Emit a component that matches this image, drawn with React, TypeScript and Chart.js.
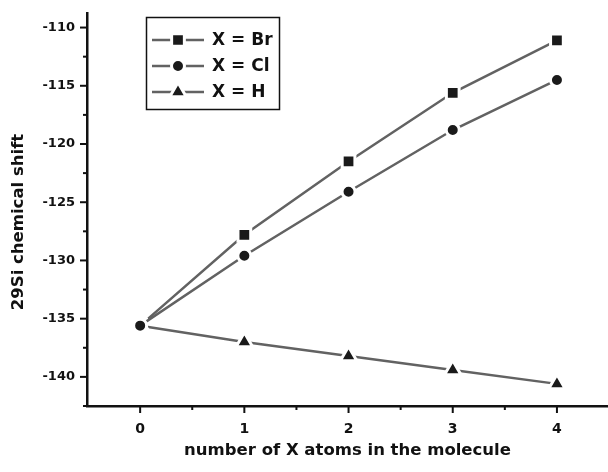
import React, { useEffect, useRef } from "react";
import { Chart, registerables } from "chart.js";

Chart.register(...registerables);

const xValues = [0, 1, 2, 3, 4];
const brValues = [-135.6, -127.8, -121.5, -115.6, -111.1];
const clValues = [-135.6, -129.6, -124.1, -118.8, -114.5];
const hValues = [-135.6, -137.0, -138.2, -139.4, -140.6];
const seriesLabels = ["X = Br", "X = Cl", "X = H"];

const xTickValues = [0, 0.5, 1, 1.5, 2, 2.5, 3, 3.5, 4, 4.5];
const xTickLabels = ["0", "", "1", "", "2", "", "3", "", "4", ""];
const yTickValues = [-142.5, -140, -137.5, -135, -132.5, -130, -127.5, -125, -122.5, -120, -117.5, -115, -112.5, -110];
const yTickLabels = ["", "-140", "", "-135", "", "-130", "", "-125", "", "-120", "", "-115", "", "-110"];

const xTitle = "number of X atoms in the molecule";
const yTitle = "29Si chemical shift";

const FONT = '"DejaVu Sans", "Liberation Sans", Arial, sans-serif';
const INK = "#111111";
const LINE = "#626262";
const MARK = "#1a1a1a";

const styles = [
  { pointStyle: "rect", radius: 9 },
  { pointStyle: "circle", radius: 6.5 },
  { pointStyle: "triangle", radius: 9.5 },
];

function drawMarker(ctx: CanvasRenderingContext2D, style: string, r: number, x: number, y: number) {
  ctx.save();
  ctx.fillStyle = MARK;
  ctx.strokeStyle = "#ffffff";
  ctx.lineWidth = 3;
  ctx.beginPath();
  if (style === "rect") {
    const s = Math.SQRT1_2 * r;
    ctx.rect(x - s, y - s, 2 * s, 2 * s);
  } else if (style === "circle") {
    ctx.arc(x, y, r, 0, Math.PI * 2);
  } else {
    const a = (Math.PI * 2) / 3;
    ctx.moveTo(x, y - r);
    ctx.lineTo(x + Math.sin(a) * r, y - Math.cos(a) * r);
    ctx.lineTo(x - Math.sin(a) * r, y - Math.cos(a) * r);
    ctx.closePath();
  }
  ctx.fill();
  ctx.stroke();
  ctx.restore();
}

const decorPlugin = {
  id: "decor",
  afterDraw(chart: any) {
    const ctx: CanvasRenderingContext2D = chart.ctx;
    const xs = chart.scales.x;
    const ys = chart.scales.y;
    const area = chart.chartArea;
    ctx.save();
    ctx.strokeStyle = INK;
    ctx.lineWidth = 2;
    xTickValues.forEach((v, i) => {
      const px = xs.getPixelForValue(v);
      const len = xTickLabels[i] ? 7 : 4;
      ctx.beginPath();
      ctx.moveTo(px, xs.top);
      ctx.lineTo(px, xs.top + len);
      ctx.stroke();
    });
    yTickValues.forEach((v, i) => {
      const py = ys.getPixelForValue(v);
      const len = yTickLabels[i] ? 7 : 4;
      ctx.beginPath();
      ctx.moveTo(ys.right, py);
      ctx.lineTo(ys.right - len, py);
      ctx.stroke();
    });
    ctx.fillStyle = INK;
    ctx.font = `bold 16.5px ${FONT}`;
    ctx.textAlign = "center";
    ctx.textBaseline = "middle";
    ctx.fillText(xTitle, (area.left + area.right) / 2, 451);
    ctx.translate(19, 222);
    ctx.rotate(-Math.PI / 2);
    ctx.font = `bold 16.5px ${FONT}`;
    ctx.fillText(yTitle, 0, 0);
    ctx.restore();

    ctx.save();
    ctx.strokeStyle = INK;
    ctx.lineWidth = 1.5;
    ctx.strokeRect(146.5, 17.5, 133, 92);
    const rows = [40, 66, 92];
    chart.data.datasets.forEach((ds: any, i: number) => {
      const y = rows[i];
      ctx.strokeStyle = LINE;
      ctx.lineWidth = 2.5;
      ctx.beginPath();
      ctx.moveTo(152, y);
      ctx.lineTo(204, y);
      ctx.stroke();
      drawMarker(ctx, styles[i].pointStyle, styles[i].radius, 178, y);
      ctx.fillStyle = INK;
      ctx.font = `bold 17px ${FONT}`;
      ctx.textAlign = "left";
      ctx.textBaseline = "middle";
      ctx.fillText(ds.label, 212, y + 1);
    });
    ctx.restore();
  },
};

export default function App() {
  const ref = useRef<HTMLCanvasElement>(null);
  useEffect(() => {
    const series = [brValues, clValues, hValues];
    const chart = new Chart(ref.current as HTMLCanvasElement, {
      type: "line",
      data: {
        datasets: series.map((vals, i) => ({
          label: seriesLabels[i],
          data: xValues.map((x, j) => ({ x, y: vals[j] })),
          borderColor: LINE,
          borderWidth: 2.5,
          pointStyle: styles[i].pointStyle as any,
          pointRadius: styles[i].radius,
          pointBackgroundColor: MARK,
          pointBorderColor: "#ffffff",
          pointBorderWidth: 3,
          order: i === 1 ? 0 : i === 0 ? 1 : 2,
          tension: 0,
        })),
      },
      options: {
        responsive: false,
        animation: false,
        devicePixelRatio: 1,
        layout: { padding: { top: 13, left: 0, right: 0, bottom: 0 }, autoPadding: false },
        plugins: { legend: { display: false }, tooltip: { enabled: false }, title: { display: false } },
        scales: {
          x: {
            type: "linear",
            min: -0.51,
            max: 4.49,
            afterBuildTicks: (s: any) => {
              s.ticks = xTickValues.map((v) => ({ value: v }));
            },
            afterFit: (s: any) => {
              s.height = 66;
              s.paddingLeft = 0;
              s.paddingRight = 0;
            },
            ticks: {
              autoSkip: false,
              maxRotation: 0,
              padding: 15,
              color: INK,
              font: { family: FONT, size: 14, weight: "bold" },
              callback: (v: any) => {
                const i = xTickValues.indexOf(Number(v));
                return i >= 0 ? xTickLabels[i] : "";
              },
            },
            grid: { display: false, drawTicks: false },
            border: { display: true, color: INK, width: 2.5 },
          },
          y: {
            type: "linear",
            min: -142.5,
            max: -108.75,
            afterBuildTicks: (s: any) => {
              s.ticks = yTickValues.map((v) => ({ value: v }));
            },
            afterFit: (s: any) => {
              s.width = 87;
              s.paddingTop = 0;
              s.paddingBottom = 0;
            },
            ticks: {
              autoSkip: false,
              padding: 12,
              color: INK,
              font: { family: FONT, size: 13, weight: "bold" },
              callback: (v: any) => {
                const i = yTickValues.indexOf(Number(v));
                return i >= 0 ? yTickLabels[i] : "";
              },
            },
            grid: { display: false, drawTicks: false },
            border: { display: true, color: INK, width: 2.5 },
          },
        },
      },
      plugins: [decorPlugin],
    });
    return () => chart.destroy();
  }, []);
  return (
    <div style={{ position: "fixed", left: 0, top: 0, width: 608, height: 472, background: "#ffffff", overflow: "hidden" }}>
      <canvas ref={ref} width={608} height={472} style={{ display: "block", width: 608, height: 472 }} />
    </div>
  );
}
